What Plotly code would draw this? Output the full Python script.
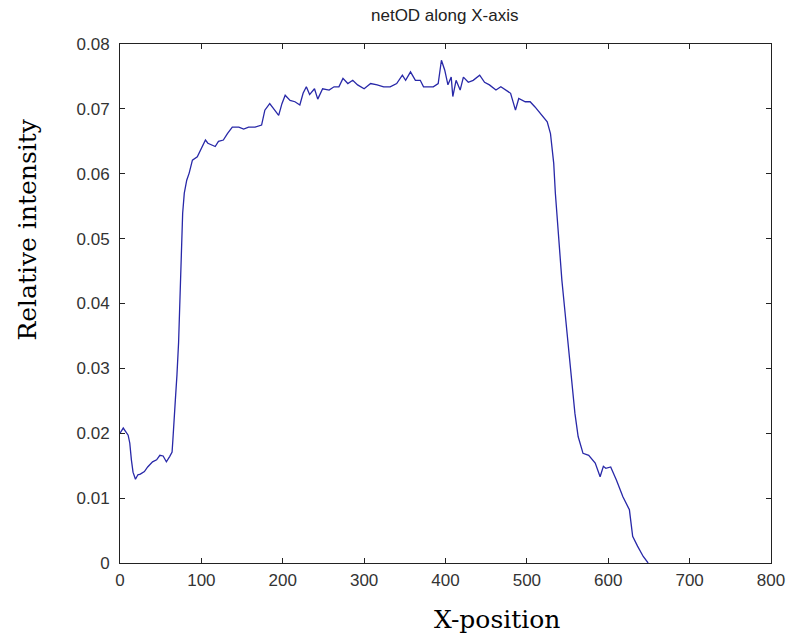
import plotly.graph_objects as go

x_pos = [0, 4, 10, 12, 14, 16, 19, 22, 25, 30, 34, 40, 45, 49, 53, 57, 61, 64, 65, 66, 68, 70, 72, 74, 76, 77, 79, 82, 85, 89,
         95, 99, 105, 108, 113, 117, 121, 127, 132, 138, 146, 152, 158, 166, 174, 178, 184, 188, 195, 199, 203, 209, 215,
         221, 225, 229, 233, 239, 243, 249, 257, 263, 269, 274, 280, 286, 292, 300, 308, 316, 324, 332, 340, 347, 351, 357,
         363, 369, 373, 385, 391, 395, 399, 403, 407, 409, 413, 418, 422, 428, 434, 442, 448, 454, 462, 468, 474, 480, 486,
         490, 498, 504, 510, 519, 525, 529, 533, 535, 539, 543, 547, 551, 555, 559, 563, 569, 576, 584, 590, 594, 597, 603,
         610, 618, 626, 630, 636, 643, 649]

net_od = [0.0200, 0.0208, 0.0197, 0.0185, 0.0159, 0.0140, 0.0129, 0.0136, 0.0137, 0.0141, 0.0148, 0.0156, 0.0159, 0.0166,
          0.0165, 0.0156, 0.0164, 0.0171, 0.0190, 0.0215, 0.0251, 0.0290, 0.0340, 0.0420, 0.0513, 0.0539, 0.0570, 0.0590,
          0.0601, 0.0621, 0.0626, 0.0636, 0.0652, 0.0647, 0.0644, 0.0642, 0.0650, 0.0652, 0.0662, 0.0672, 0.0672, 0.0669,
          0.0672, 0.0672, 0.0675, 0.0698, 0.0708, 0.0701, 0.0690, 0.0708, 0.0721, 0.0713, 0.0711, 0.0706, 0.0724, 0.0734,
          0.0722, 0.0731, 0.0715, 0.0731, 0.0729, 0.0734, 0.0734, 0.0747, 0.0739, 0.0744, 0.0737, 0.0731, 0.0739, 0.0737,
          0.0734, 0.0734, 0.0739, 0.0752, 0.0744, 0.0757, 0.0744, 0.0744, 0.0734, 0.0734, 0.0739, 0.0775, 0.0760, 0.0737,
          0.0749, 0.0719, 0.0744, 0.0729, 0.0749, 0.0741, 0.0744, 0.0752, 0.0741, 0.0737, 0.0729, 0.0734, 0.0729, 0.0724,
          0.0698, 0.0716, 0.0711, 0.0711, 0.0703, 0.0690, 0.0680, 0.0662, 0.0616, 0.0570, 0.0500, 0.0436, 0.0385, 0.0333,
          0.0282, 0.0231, 0.0195, 0.0169, 0.0166, 0.0154, 0.0133, 0.0149, 0.0146, 0.0148, 0.0128, 0.0102, 0.0082, 0.0041,
          0.0026, 0.0010, 0.0000]

x_ticks = [0, 100, 200, 300, 400, 500, 600, 700, 800]
y_ticks = [0, 0.01, 0.02, 0.03, 0.04, 0.05, 0.06, 0.07, 0.08]
y_tick_text = ["0", "0.01", "0.02", "0.03", "0.04", "0.05", "0.06", "0.07", "0.08"]

fig = go.Figure()
fig.add_trace(go.Scatter(x=x_pos, y=net_od, mode="lines",
                         line=dict(color="#2828a8", width=1.3), showlegend=False))

axis_common = dict(showline=True, linecolor="#222222", linewidth=1, mirror="ticks",
                   ticks="inside", ticklen=5, tickcolor="#222222", showgrid=False, zeroline=False,
                   tickfont=dict(family="Liberation Sans, Arial", size=17, color="#333333"))

fig.update_xaxes(range=[0, 800], tickvals=x_ticks, ticklabelstandoff=2, **axis_common)
fig.update_yaxes(range=[0, 0.08], tickvals=y_ticks, ticktext=y_tick_text, ticklabelstandoff=6, **axis_common)

W, H = 797, 639
l, r, t, b = 120, 22, 44, 76
pw, ph = W - l - r, H - t - b


def pos(px, py):
    return dict(x=(px - l) / pw, y=(H - b - py) / ph, xref="paper", yref="paper",
                xanchor="center", yanchor="middle", showarrow=False)


fig.update_layout(
    width=W, height=H,
    margin=dict(l=l, r=r, t=t, b=b),
    paper_bgcolor="white", plot_bgcolor="white",
    annotations=[
        dict(text="netOD along X-axis", **pos(446, 16),
             font=dict(family="Liberation Sans, Arial", size=17, color="#222222")),
        dict(text="Relative intensity", textangle=-90, **pos(26, 230),
             font=dict(family="DejaVu Serif, serif", size=25, color="black")),
        dict(text="X-position", **pos(499, 619),
             font=dict(family="DejaVu Serif, serif", size=25, color="black")),
    ],
)

fig.write_html("out.html")
